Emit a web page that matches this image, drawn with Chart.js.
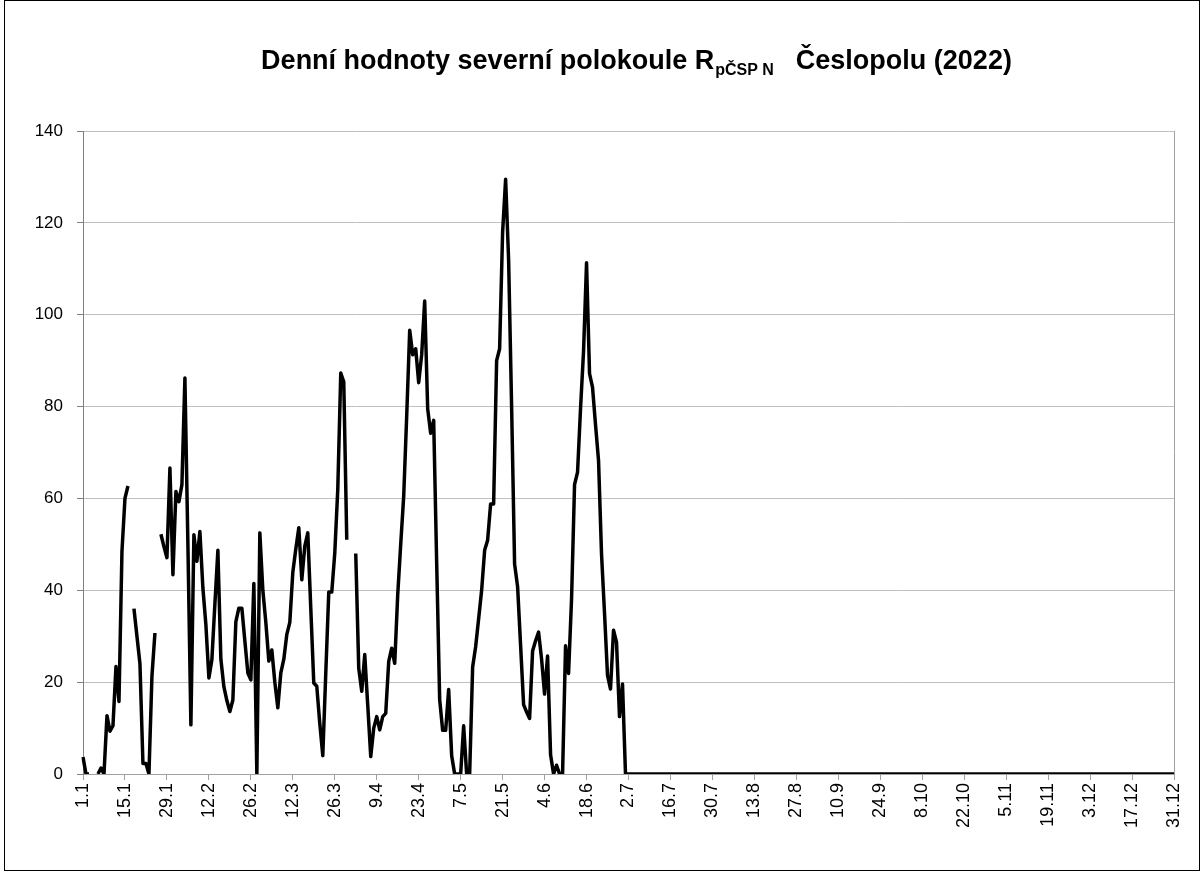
<!DOCTYPE html>
<html>
<head>
<meta charset="utf-8">
<title>Denní hodnoty severní polokoule</title>
<script src="https://cdn.jsdelivr.net/npm/chart.js@4.4.1/dist/chart.umd.min.js"></script>
<style>
  html, body { margin: 0; padding: 0; background: #fff; }
  #obal { position: relative; width: 1202px; height: 872px; }
</style>
</head>
<body>
<div id="obal"><canvas id="graf" width="1202" height="872"></canvas></div>
<script>
// ===== Data =====
// kategorie = dny roku 2022 ve tvaru "d.m"
const kategorie = [];
for (let d = new Date(2022, 0, 1); d.getFullYear() === 2022; d.setDate(d.getDate() + 1)) {
    kategorie.push(d.getDate() + '.' + (d.getMonth() + 1));
}

// popisky osy X, ktere se zobrazuji
const popiskyOsyX = ['1.1', '15.1', '29.1', '12.2', '26.2', '12.3', '26.3', '9.4', '23.4', '7.5',
    '21.5', '4.6', '18.6', '2.7', '16.7', '30.7', '13.8', '27.8', '10.9', '24.9', '8.10',
    '22.10', '5.11', '19.11', '3.12', '17.12', '31.12'];

// popisky osy Y
const popiskyOsyY = [0, 20, 40, 60, 80, 100, 120, 140];

// leden - unor
const hodnotyLedenUnor = [
    3.7, 0, 0, null, null, 0, 1.3, 0, 12.7, 9.3,
    10.5, 23.4, 15.8, 48.5, 60, 62.7, null, 36, 30, 24,
    2.3, 2.3, 0, 21.3, 30.7, null, 52.2, 49.5, 47.1, 66.6,
    43.4, 61.5, 59.3, 63, 86.2, 50, 10.7, 52.1, 46.3, 52.8,
    40.5, 32.5, 20.9, 24.9, 37, 48.7, 25, 19, 16, 13.6,
    16.1, 33.2, 36.1, 36.1, 29, 22, 20.5, 41.5, 0
];
// brezen - duben
const hodnotyBrezenDuben = [
    52.5, 40, 33, 24.6, 27, 20, 14.4, 22, 25, 30.4,
    33, 43.9, 49, 53.6, 42.3, 49.6, 52.5, 36, 19.8, 19.1,
    11, 4, 22, 39.6, 39.6, 48.1, 61.9, 87.3, 85.4, 51,
    null, null, 48, 23, 18, 26, 15, 3.8, 10, 12.5,
    9.6, 12.5, 13.2, 24.5, 27.4, 24.1, 39, 50, 60.5, 78,
    96.6, 91.3, 92.6, 85.2, 91.3, 103, 79.5, 74.2, 77, 46,
    16.2
];
// kveten - cerven
const hodnotyKvetenCerven = [
    9.5, 9.5, 18.4, 4, 0, 0, 0, 10.5, 0, 0,
    23.3, 27.7, 33.8, 40, 48.7, 50.9, 58.8, 58.8, 90, 92.6,
    118, 129.5, 112, 80, 45.7, 40.8, 28, 15.1, 13.5, 12.1,
    26.8, 29, 30.9, 25, 17.4, 25.7, 4.2, 0, 1.9, 0,
    0, 27.9, 21.9, 38.1, 63, 65.7, 79.6, 92, 111.3, 87.2,
    84.2, 76, 68.3, 47.9, 35, 21.5, 18.5, 31.3, 28.7, 12.5,
    19.6
];
// cervenec - prosinec (same nuly)
const hodnotyDruhePololeti = [
    0, 0, 0, 0, 0, 0, 0, 0, 0, 0, 0, 0, 0, 0, 0, 0, 0, 0, 0, 0, 0, 0, 0, 0, 0, 0, 0, 0, 0, 0,
    0, 0, 0, 0, 0, 0, 0, 0, 0, 0, 0, 0, 0, 0, 0, 0, 0, 0, 0, 0, 0, 0, 0, 0, 0, 0, 0, 0, 0, 0,
    0, 0, 0, 0, 0, 0, 0, 0, 0, 0, 0, 0, 0, 0, 0, 0, 0, 0, 0, 0, 0, 0, 0, 0, 0, 0, 0, 0, 0, 0,
    0, 0, 0, 0, 0, 0, 0, 0, 0, 0, 0, 0, 0, 0, 0, 0, 0, 0, 0, 0, 0, 0, 0, 0, 0, 0, 0, 0, 0, 0,
    0, 0, 0, 0, 0, 0, 0, 0, 0, 0, 0, 0, 0, 0, 0, 0, 0, 0, 0, 0, 0, 0, 0, 0, 0, 0, 0, 0, 0, 0,
    0, 0, 0, 0, 0, 0, 0, 0, 0, 0, 0, 0, 0, 0, 0, 0, 0, 0, 0, 0, 0, 0, 0, 0, 0, 0, 0, 0, 0, 0,
    0, 0, 0, 0
];

const hodnoty = [].concat(hodnotyLedenUnor, hodnotyBrezenDuben, hodnotyKvetenCerven, hodnotyDruhePololeti);

const PISMO = '"Liberation Sans", Arial, sans-serif';

// titulek s dolnim indexem + ramecky
const titulekPlugin = {
    id: 'titulek',
    beforeDraw(chart) {
        const ctx = chart.ctx;
        ctx.save();
        ctx.fillStyle = '#fff';
        ctx.fillRect(0, 0, chart.width, chart.height);
        ctx.restore();
    },
    afterDraw(chart) {
        const ctx = chart.ctx;
        const a = chart.chartArea;
        ctx.save();

        // pravy okraj plochy grafu
        ctx.strokeStyle = '#a0a0a0';
        ctx.lineWidth = 1;
        ctx.beginPath();
        ctx.moveTo(Math.round(a.right) + 0.5, a.top);
        ctx.lineTo(Math.round(a.right) + 0.5, a.bottom);
        ctx.stroke();

        // vnejsi ramecek
        ctx.strokeStyle = '#000';
        ctx.strokeRect(4.5, 0.5, 1195, 870);

        // titulek
        const cast1 = 'Denní hodnoty severní polokoule R';
        const index = 'pČSP N';
        const cast2 = 'Česlopolu (2022)';
        const velky = 'bold 27px ' + PISMO;
        const maly = 'bold 16px ' + PISMO;
        const mezera = 22;
        ctx.font = velky;
        const w1 = ctx.measureText(cast1).width;
        const w3 = ctx.measureText(cast2).width;
        ctx.font = maly;
        const w2 = ctx.measureText(index).width;
        let x = 636 - (w1 + w2 + mezera + w3) / 2;
        const y = 69;
        ctx.fillStyle = '#000';
        ctx.textBaseline = 'alphabetic';
        ctx.textAlign = 'left';
        ctx.font = velky;
        ctx.fillText(cast1, x, y);
        x += w1 + 1;
        ctx.font = maly;
        ctx.fillText(index, x, y + 6);
        x += w2 + mezera;
        ctx.font = velky;
        ctx.fillText(cast2, x, y);
        ctx.restore();
    }
};

new Chart(document.getElementById('graf').getContext('2d'), {
    type: 'line',
    data: {
        labels: kategorie,
        datasets: [{
            label: 'R',
            data: hodnoty,
            borderColor: '#000',
            borderWidth: 3.5,
            borderJoinStyle: 'round',
            pointRadius: 0,
            tension: 0,
            spanGaps: false,
            fill: false
        }]
    },
    options: {
        responsive: false,
        animation: false,
        devicePixelRatio: 1,
        layout: { padding: { left: 0, top: 131, right: 28, bottom: 0 } },
        plugins: {
            legend: { display: false },
            tooltip: { enabled: false },
            title: { display: false }
        },
        scales: {
            x: {
                type: 'category',
                offset: false,
                afterFit: s => { s.height = 98; },
                border: { color: '#a0a0a0', width: 1 },
                grid: {
                    drawOnChartArea: false,
                    tickLength: 6,
                    tickColor: c => popiskyOsyX.includes(kategorie[c.index]) ? '#a0a0a0' : 'rgba(0,0,0,0)'
                },
                ticks: {
                    autoSkip: false,
                    minRotation: 90,
                    maxRotation: 90,
                    padding: 3,
                    color: '#000',
                    font: { family: PISMO, size: 18 },
                    callback: (v, i) => popiskyOsyX.includes(kategorie[i]) ? kategorie[i] : ''
                }
            },
            y: {
                min: popiskyOsyY[0],
                max: popiskyOsyY[popiskyOsyY.length - 1],
                afterFit: s => { s.width = 83; },
                afterBuildTicks: s => { s.ticks = popiskyOsyY.map(v => ({ value: v })); },
                border: { color: '#808080', width: 1 },
                grid: {
                    color: '#c0c0c0',
                    lineWidth: 1,
                    tickLength: 6,
                    tickColor: '#808080'
                },
                ticks: {
                    padding: 14,
                    color: '#000',
                    font: { family: PISMO, size: 17 }
                }
            }
        }
    },
    plugins: [titulekPlugin]
});
</script>
</body>
</html>
